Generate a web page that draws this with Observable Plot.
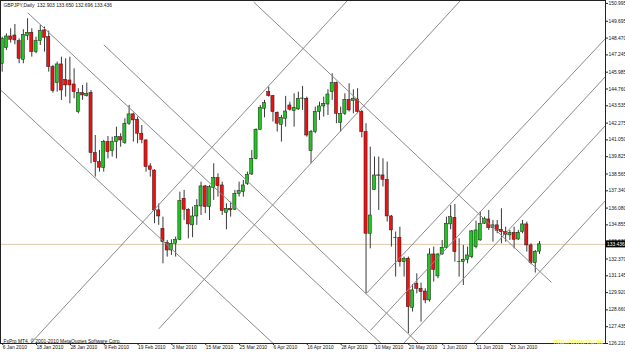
<!DOCTYPE html>
<html><head><meta charset="utf-8">
<script src="https://cdn.jsdelivr.net/npm/d3@7"></script>
<script src="https://cdn.jsdelivr.net/npm/@observablehq/plot@0.6"></script>
<style>
html,body{margin:0;padding:0;background:#fff;}
#chart{width:625px;height:353px;overflow:hidden;}
svg{font-family:"Liberation Sans",Arial,sans-serif;}
</style></head>
<body><div id="chart"></div>
<script>
const title = "GBPJPY,Daily  132.903 133.650 132.696 133.436";
const copyright = "FxPro MT4, \u00A9 2001-2010 MetaQuotes Software Corp.";
const watermark = "http://www.vip.ae";

// daily bars, 6 Jan 2010 (bar 0) ... 2 Jul 2010 (bar 127)
const open = [146.60,147.74,148.59,148.66,148.25,146.89,148.61,148.86,147.45,148.25,149.03,148.54,146.36,145.19,146.55,145.43,145.38,145.09,143.08,144.46,144.24,144.48,140.09,139.43,139.02,140.89,140.23,140.89,141.25,140.82,142.23,142.91,142.52,141.50,141.01,139.12,138.82,135.91,134.57,133.53,132.99,133.48,133.77,136.76,135.96,134.82,135.47,136.20,137.66,136.15,137.56,138.27,137.73,135.74,136.03,135.96,137.12,137.24,137.85,138.53,139.67,141.79,143.32,144.53,144.24,143.03,142.15,142.59,143.56,143.15,143.27,144.05,144.05,140.23,141.62,143.08,143.49,143.63,144.53,145.19,142.27,142.95,143.97,143.88,144.00,143.08,141.62,134.21,137.41,138.46,138.46,138.14,135.47,133.92,133.92,132.14,132.39,128.81,130.56,130.20,130.00,129.35,132.70,131.10,132.70,133.19,134.89,135.37,132.16,132.14,132.31,132.51,133.24,133.72,134.94,135.25,134.62,134.82,134.50,134.33,134.09,134.28,133.79,134.33,134.89,133.36,132.07,132.903];
const high = [148.54,148.78,149.15,149.46,148.42,149.08,149.88,149.15,148.54,149.39,149.27,148.98,146.48,146.72,147.08,146.96,147.08,146.23,144.78,145.02,145.19,144.65,141.37,140.28,141.01,141.30,141.25,141.98,141.50,142.59,143.56,143.00,142.71,142.10,141.06,139.31,138.87,136.39,135.42,133.72,133.77,133.97,137.24,137.37,136.03,136.15,136.69,137.97,137.73,137.73,139.31,138.58,137.97,136.39,136.52,137.37,137.97,138.09,138.70,140.28,141.86,143.56,143.93,144.90,144.29,143.08,142.83,144.22,143.80,144.41,144.53,144.95,144.17,141.74,143.44,143.80,144.17,144.70,145.87,145.26,143.44,144.41,145.14,144.70,144.78,143.20,142.23,140.52,139.80,139.80,139.67,139.43,135.54,134.33,134.69,132.51,132.51,130.50,131.29,130.61,130.20,133.11,133.24,132.75,133.72,135.42,136.27,136.35,133.84,133.36,133.24,134.45,135.13,135.79,135.42,135.91,135.18,135.18,136.03,134.69,134.45,134.69,134.45,135.18,135.06,133.48,132.99,133.650];
const low = [145.99,147.57,148.10,147.98,146.60,146.60,148.30,147.08,147.33,147.93,147.45,145.99,144.46,144.53,143.93,144.17,143.68,144.05,142.95,143.93,144.17,139.31,138.34,138.70,138.70,139.67,139.80,139.67,140.52,140.72,142.10,140.89,140.77,140.77,138.70,138.34,134.94,134.82,132.02,132.51,132.63,132.51,133.72,135.18,133.84,133.92,134.82,135.54,135.67,135.18,136.64,136.88,135.54,134.50,135.42,135.91,136.88,136.88,137.73,138.46,139.60,141.74,142.66,144.17,142.35,141.62,140.89,141.98,143.15,141.98,143.20,143.20,141.25,139.31,141.50,142.47,142.71,142.83,143.93,142.23,141.62,142.83,143.08,142.95,142.95,141.20,129.83,133.11,137.37,135.91,137.61,135.06,133.24,131.05,131.78,131.05,126.92,128.50,129.83,127.77,129.11,129.23,130.69,130.93,132.63,133.11,134.50,132.14,131.05,130.44,132.02,132.39,133.11,133.67,134.89,134.45,133.60,134.21,133.48,133.60,133.72,133.11,133.72,134.21,132.87,131.95,131.34,132.696];
const close = [148.42,148.59,148.35,148.30,146.96,148.71,148.86,147.45,148.25,148.98,148.49,146.36,144.61,146.55,144.65,145.02,145.02,144.53,144.48,144.29,144.41,140.09,139.43,139.02,140.89,140.16,140.89,141.25,141.01,142.23,142.91,142.47,141.50,141.06,139.07,138.87,135.91,135.47,133.60,132.99,133.48,133.77,136.59,135.96,134.89,135.47,136.22,137.66,136.15,137.61,138.27,137.68,135.86,136.03,135.91,137.12,137.32,137.73,138.51,139.67,141.79,143.37,143.73,144.24,143.08,142.23,142.66,143.12,143.25,143.39,144.05,144.07,141.37,141.62,143.08,143.49,143.68,144.36,145.19,142.95,142.95,143.97,143.20,144.05,143.08,141.62,134.21,135.54,138.46,138.44,138.14,135.47,134.45,133.90,132.14,132.39,128.86,130.08,130.20,129.96,129.35,132.70,131.58,132.70,133.19,134.94,135.42,132.87,132.14,132.31,132.63,134.38,134.45,134.94,135.30,134.62,134.82,134.40,134.33,134.13,134.28,133.77,134.28,134.89,133.36,132.07,132.87,133.436];

const dateTickBars = [0,8,16,24,32,40,48,56,64,72,80,88,96,104,112,120];
const dateTickLabels = ["6 Jan 2010","18 Jan 2010","28 Jan 2010","9 Feb 2010","19 Feb 2010","3 Mar 2010","15 Mar 2010","25 Mar 2010","6 Apr 2010","16 Apr 2010","28 Apr 2010","10 May 2010","20 May 2010","1 Jun 2010","11 Jun 2010","23 Jun 2010"];
const priceTicks = [150.995,149.695,148.470,147.245,145.985,144.760,143.535,142.275,141.050,139.825,138.565,137.340,136.080,134.855,133.630,132.370,131.145,129.920,128.660,127.435,126.210];

// drawn trend lines (anchor bar, anchor price)
const lineStartBar   = [6.05, 24.02, -0.4, 59.47, 6.69, 37.02, 86, 87.05, 94.85, 111.4];
const lineStartPrice = [150.31, 147.98, 144.70, 151.09, 126.21, 127.28, 129.83, 127.16, 126.21, 126.21];
const lineEndBar     = [89.6, 98.4, 64.06, 129.83, 81.62, 108.33, 142.6, 142.6, 142.6, 142.6];
const lineEndPrice   = [126.21, 126.21, 126.21, 130.66, 151.21, 151.21, 148.44, 145.67, 142.10, 136.63];

const bars = open.map((o, i) => ({i, open: o, high: high[i], low: low[i], close: close[i]}));
const lines = lineStartBar.map((b, k) => ({x1: b, y1: lineStartPrice[k], x2: lineEndBar[k], y2: lineEndPrice[k]}));
const lastClose = close[close.length - 1];
const labelOf = new Map(dateTickBars.map((b, k) => [b, dateTickLabels[k]]));

const up = "#22c322", down = "#ee1111";
const fs = 4.9;

const chart = Plot.plot({
  width: 625, height: 353,
  marginLeft: 0, marginRight: 20, marginTop: 0, marginBottom: 10,
  style: {background: "#fff", fontFamily: "Liberation Sans, Arial, sans-serif"},
  x: {type: "linear", domain: [-0.4, 142.6], axis: null},
  y: {domain: [126.21, 151.21], axis: null},
  marks: [
    Plot.ruleY([lastClose], {stroke: "#dcc8a6", strokeWidth: 1}),
    Plot.ruleX(bars, {x: "i", y1: "low", y2: "high", stroke: "#3a3a3a", strokeWidth: 1, clip: true}),
    Plot.rect(bars, {x1: d => d.i - 0.37, x2: d => d.i + 0.37, y1: "open", y2: "close",
      fill: d => d.close >= d.open ? up : down, stroke: "#1a1a1a", strokeWidth: 0.5, clip: true}),
    Plot.link(lines, {x1: "x1", y1: "y1", x2: "x2", y2: "y2", stroke: "#8a8a8a", strokeWidth: 1, clip: true}),
    Plot.frame({stroke: "#222", strokeWidth: 1}),
    Plot.axisY({anchor: "right", ticks: priceTicks, tickFormat: d => d.toFixed(3), tickSize: 2, tickPadding: 1,
      fontSize: fs, stroke: "#222", fill: "#111"}),
    Plot.axisX({anchor: "bottom", ticks: dateTickBars, tickFormat: d => labelOf.get(d), tickSize: 2, tickPadding: 0.5,
      textAnchor: "start", dx: 0.5, fontSize: fs, stroke: "#222", fill: "#111"}),
    Plot.text([title], {frameAnchor: "top-left", dx: 3, dy: 3, fontSize: fs, fill: "#111", textAnchor: "start", lineAnchor: "top"}),
    Plot.text([copyright], {frameAnchor: "bottom-left", dx: 3, dy: -1, fontSize: fs, fill: "#111", textAnchor: "start", lineAnchor: "bottom"}),
    Plot.text([watermark], {frameAnchor: "bottom-right", dx: -2, dy: 0, fontSize: 6.6, fill: "#ffff00", textAnchor: "end", lineAnchor: "bottom"})
  ]
});
document.getElementById("chart").appendChild(chart);

// current price marker on the price axis
const sy = chart.scale("y").apply(lastClose);
const sx = chart.scale("x").apply(142.6);
const svg = d3.select(chart);
const g = svg.append("g");
g.append("rect").attr("x", sx + 1).attr("y", sy - 3.5).attr("width", 625 - sx - 1).attr("height", 7).attr("fill", "#000");
g.append("text").attr("x", sx + 2).attr("y", sy).attr("dy", "0.35em")
  .attr("font-size", 4.9).attr("font-family", "Liberation Sans, Arial, sans-serif")
  .attr("text-anchor", "start").style("fill", "#ffffff").text(lastClose.toFixed(3));
</script>
</body></html>
